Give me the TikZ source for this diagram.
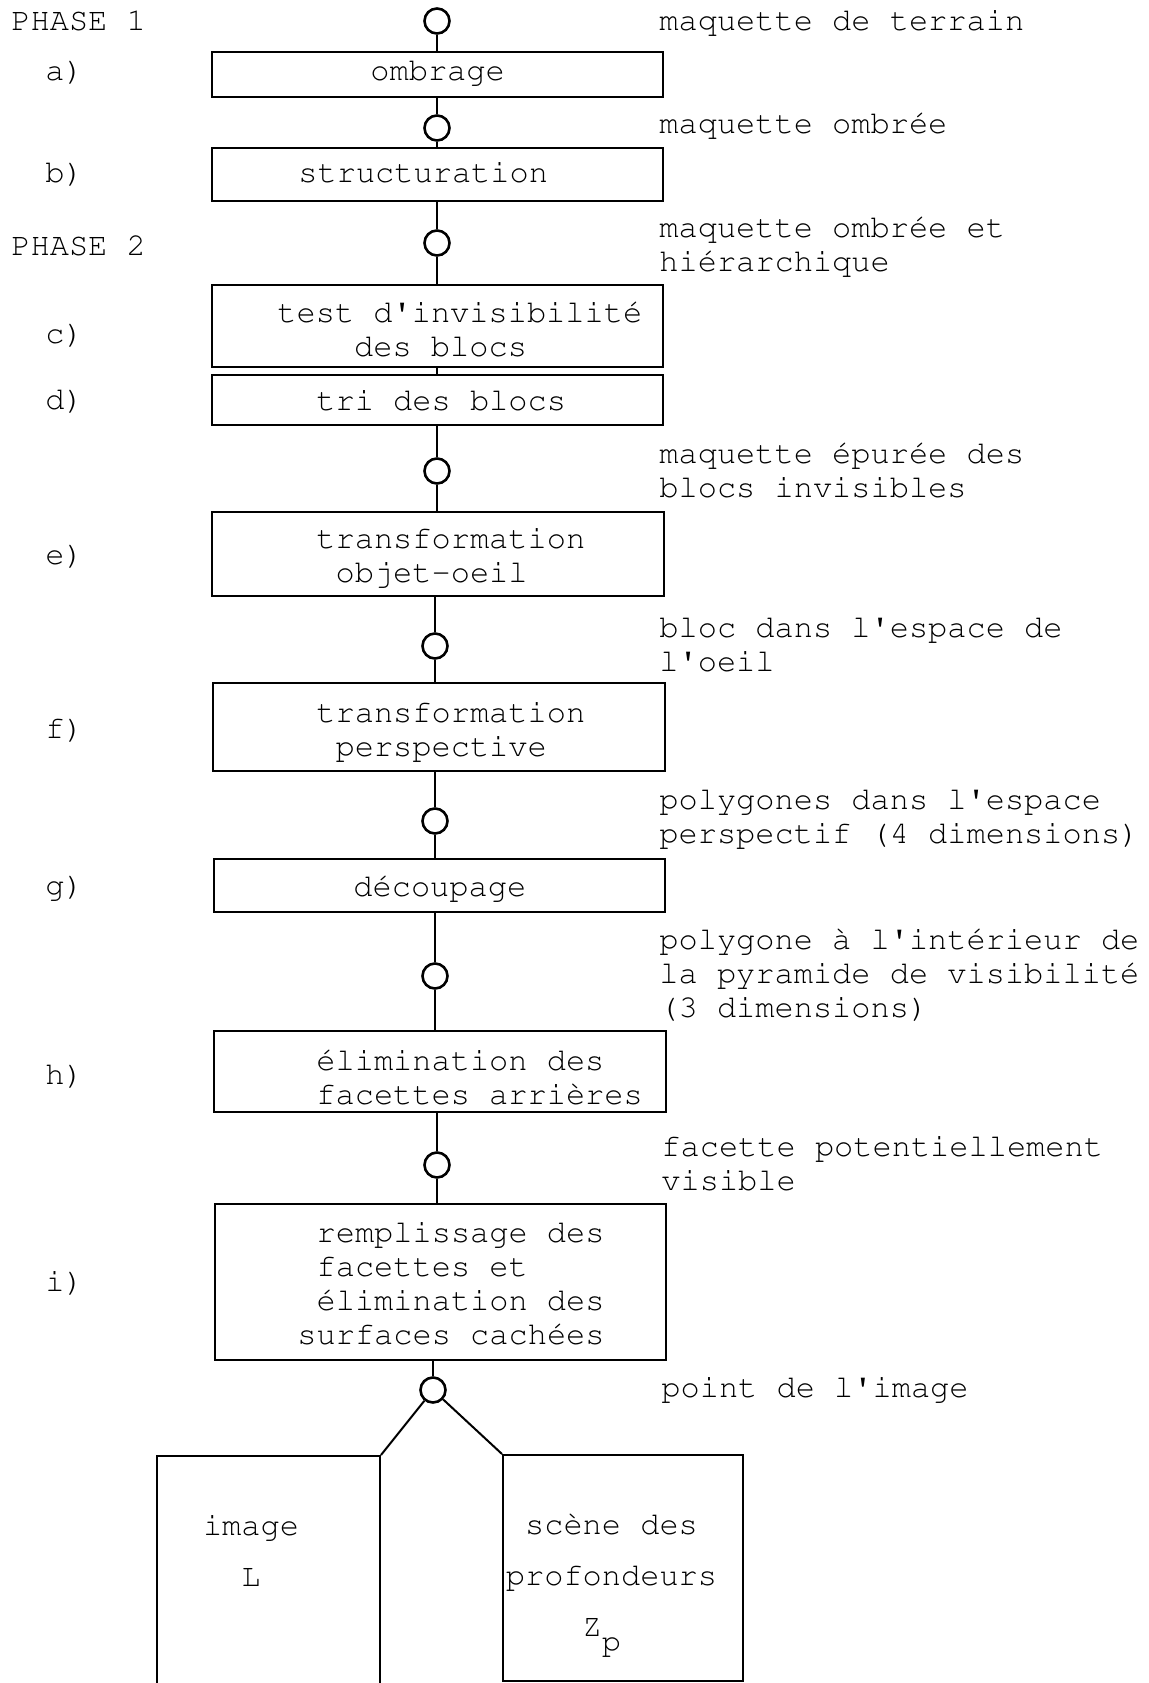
\documentclass[tikz,border=0pt]{standalone}
\usepackage[T1]{fontenc}
\usepackage{courier}
\usepackage{tikz}

\newcommand{\ap}{\textquotesingle}

\begin{document}
\begin{tikzpicture}[
    x=0.5pt, y=-0.5pt,
    every node/.style={font=\ttfamily\fontsize{16pt}{17pt}\selectfont},
    stagebox/.style={rectangle, draw, line width=1pt, inner sep=0pt, minimum width=225.5pt},
    junction/.style={circle, draw, line width=1.3pt, inner sep=0pt, minimum size=12.5pt},
    txt/.style={inner sep=0pt, anchor=base west, align=left},
    flow/.style={line width=1pt}
]
\useasboundingbox[fill=white] (0,0) rectangle (1149,1683);

% Stage boxes
\node[stagebox, minimum height=22.5pt] (ombrage) at (437,74) {};
\node[stagebox, minimum height=26.5pt] (struct) at (437,174.5) {};
\node[stagebox, minimum height=41pt] (test) at (437,326) {};
\node[stagebox, minimum height=25pt] (tri) at (437,400) {};
\node[stagebox, minimum width=226pt, minimum height=42pt] (oeil) at (437.5,554) {};
\node[stagebox, minimum width=226pt, minimum height=44pt] (persp) at (438.6,727) {};
\node[stagebox, minimum height=26.5pt] (decoup) at (439,885.5) {};
\node[stagebox, minimum width=226pt, minimum height=40.5pt] (facet) at (439.7,1071.5) {};
\node[stagebox, minimum height=78pt] (remp) at (440.4,1282) {};
\node[stagebox, minimum width=111.5pt, minimum height=122pt] (imgL) at (268.5,1578) {};
\node[stagebox, minimum width=120pt, minimum height=113pt] (depth) at (623,1568) {};

% Texts in the boxes (base = last line)
\node[txt] (t-ombrage) at (370,80) {ombrage};
\node[txt] (t-struct) at (298,182) {structuration};
\node[txt] (t-test) at (277,356) {test d\ap invisibilit\'e\\\hphantom{xxxx}des blocs};
\node[txt] (t-tri) at (316,410) {tri des blocs};
\node[txt] (t-oeil) at (316,582) {transformation\\\hphantom{x}objet-oeil};
\node[txt] (t-persp) at (316,756) {transformation\\\hphantom{x}perspective};
\node[txt] (t-decoup) at (353,896) {d\'ecoupage};
\node[txt] (t-facet) at (316,1104) {\'elimination des\\facettes arri\`eres};
\node[txt] (t-remp) at (297,1344) {\hphantom{x}remplissage des\\\hphantom{x}facettes et\\\hphantom{x}\'elimination des\\surfaces cach\'ees};
\node[txt, align=center, anchor=base] (t-imgL) at (251,1586) {image\\[8.5pt]L};
\node[txt, align=center, anchor=base] (t-depth) at (611.5,1636) {sc\`ene des\\[8.5pt]profondeurs\\[8.5pt]Z\raisebox{-7.5pt}{p}\hphantom{x}};

% Junctions
\node[junction] (j1) at (437,21) {};
\node[junction] (j2) at (437,128) {};
\node[junction] (j3) at (437,243) {};
\node[junction] (j4) at (437,471) {};
\node[junction] (j5) at (435,646) {};
\node[junction] (j6) at (435,821) {};
\node[junction] (j7) at (435,976) {};
\node[junction] (j8) at (437,1165) {};
\node[junction] (j9) at (433,1390) {};

% Data between the stages
\node[txt] (m1) at (659,30) {maquette de terrain};
\node[txt] (m2) at (659,133) {maquette ombr\'ee};
\node[txt] (m3) at (659,271) {maquette ombr\'ee et\\hi\'erarchique};
\node[txt] (m4) at (659,497) {maquette \'epur\'ee des\\blocs invisibles};
\node[txt] (m5) at (659,671) {bloc dans l\ap espace de\\l\ap oeil};
\node[txt] (m6) at (659,843) {polygones dans l\ap espace\\perspectif (4 dimensions)};
\node[txt] (m7) at (659,1017) {polygone \`a l\ap int\'erieur de\\la pyramide de visibilit\'e\\(3 dimensions)};
\node[txt] (m8) at (661,1190) {facette potentiellement\\visible};
\node[txt] (m9) at (661,1397) {point de l\ap image};

% Phases and steps
\node[txt] (phase1) at (11,30) {PHASE 1};
\node[txt] (phase2) at (11,255) {PHASE 2};
\node[txt] (la) at (45,80) {a)};
\node[txt] (lb) at (45,182) {b)};
\node[txt] (lc) at (45,343) {c)};
\node[txt] (ld) at (45,409) {d)};
\node[txt] (le) at (45,564) {e)};
\node[txt] (lf) at (45,738) {f)};
\node[txt] (lg) at (45,895) {g)};
\node[txt] (lh) at (45,1084) {h)};
\node[txt] (li) at (45,1291) {i)};

% Connectors
\draw[flow] (j1) -- (j1 |- ombrage.north);
\draw[flow] (ombrage.south -| j2) -- (j2);
\draw[flow] (j2) -- (j2 |- struct.north);
\draw[flow] (struct.south -| j3) -- (j3);
\draw[flow] (j3) -- (j3 |- test.north);
\draw[flow] (test) -- (tri);
\draw[flow] (tri.south -| j4) -- (j4);
\draw[flow] (j4) -- (j4 |- oeil.north);
\draw[flow] (oeil.south -| j5) -- (j5);
\draw[flow] (j5) -- (j5 |- persp.north);
\draw[flow] (persp.south -| j6) -- (j6);
\draw[flow] (j6) -- (j6 |- decoup.north);
\draw[flow] (decoup.south -| j7) -- (j7);
\draw[flow] (j7) -- (j7 |- facet.north);
\draw[flow] (facet.south -| j8) -- (j8);
\draw[flow] (j8) -- (j8 |- remp.north);
\draw[flow] (remp.south -| j9) -- (j9);
\draw[flow] (j9) -- (imgL.north east);
\draw[flow] (j9) -- (depth.north west);
\end{tikzpicture}
\end{document}
